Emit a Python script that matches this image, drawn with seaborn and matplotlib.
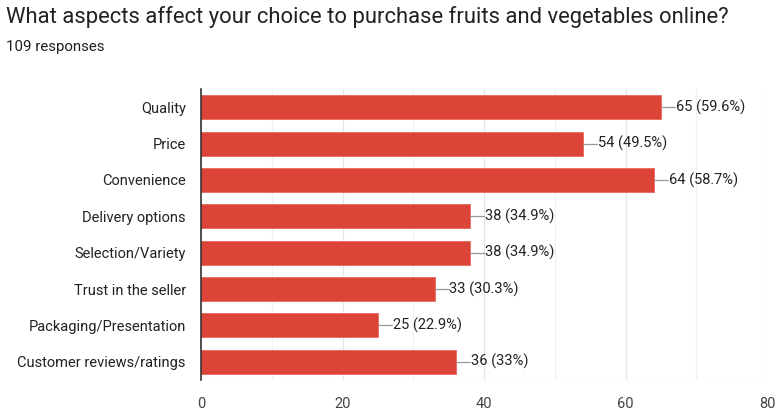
import matplotlib
matplotlib.use("Agg")
import matplotlib.pyplot as plt
import seaborn as sns
import pandas as pd

categories = ["Quality", "Price", "Convenience", "Delivery options", "Selection/Variety",
              "Trust in the seller", "Packaging/Presentation", "Customer reviews/ratings"]
counts = [65, 54, 64, 38, 38, 33, 25, 36]
percents = ["59.6%", "49.5%", "58.7%", "34.9%", "34.9%", "30.3%", "22.9%", "33%"]
x_ticks = [0, 20, 40, 60, 80]
title = "What aspects affect your choice to purchase fruits and vegetables online?"
subtitle = "109 responses"

sns.set_theme(style="white")
plt.rcParams['font.family'] = ['Roboto', 'DejaVu Sans']

df = pd.DataFrame({"category": categories, "count": counts})

fig = plt.figure(figsize=(7.75, 4.11), dpi=100)
ax = fig.add_axes([0.2594, 0.0754, 0.7303, 0.7081])

sns.barplot(data=df, x="count", y="category", color="#db4437", width=0.66,
            saturation=1, edgecolor="#e8695e", linewidth=0.6, ax=ax, zorder=3)

ax.set_xlim(0, 80)
ax.set_ylim(len(categories) - 0.5, -0.5)
for v in range(0, 81, 10):
    ax.axvline(v, color="#e6e6e6" if v % 20 == 0 else "#f1f1f1", lw=0.9, zorder=0)
ax.axhline(len(categories) - 0.5, color="#e6e6e6", lw=0.9, zorder=0)
ax.set_xticks(x_ticks)
ax.set_xticklabels([str(t) for t in x_ticks])
ax.tick_params(axis="x", length=0, pad=12, labelsize=10.5, labelcolor="#444444")
ax.tick_params(axis="y", length=0, pad=11, labelsize=10.5, labelcolor="#222222")
ax.set_xlabel("")
ax.set_ylabel("")
for s in ["top", "right", "bottom"]:
    ax.spines[s].set_visible(False)
ax.spines["left"].set_color("#333333")
ax.spines["left"].set_linewidth(1.2)
ax.spines["left"].set_zorder(5)

for i, (c, p) in enumerate(zip(counts, percents)):
    ax.plot([c, c + 2.0], [i, i], color="#999999", lw=0.9, zorder=4)
    ax.text(c + 2.1, i, f"{c} ({p})", va="center", ha="left", fontsize=10.5,
            color="#222222", zorder=4)

fig.text(0.008, 0.985, title, fontsize=15.8, color="#212121", va="top", ha="left")
fig.text(0.008, 0.902, subtitle, fontsize=10.8, color="#212121", va="top", ha="left")

fig.savefig("out.png", dpi=100, facecolor="white")
